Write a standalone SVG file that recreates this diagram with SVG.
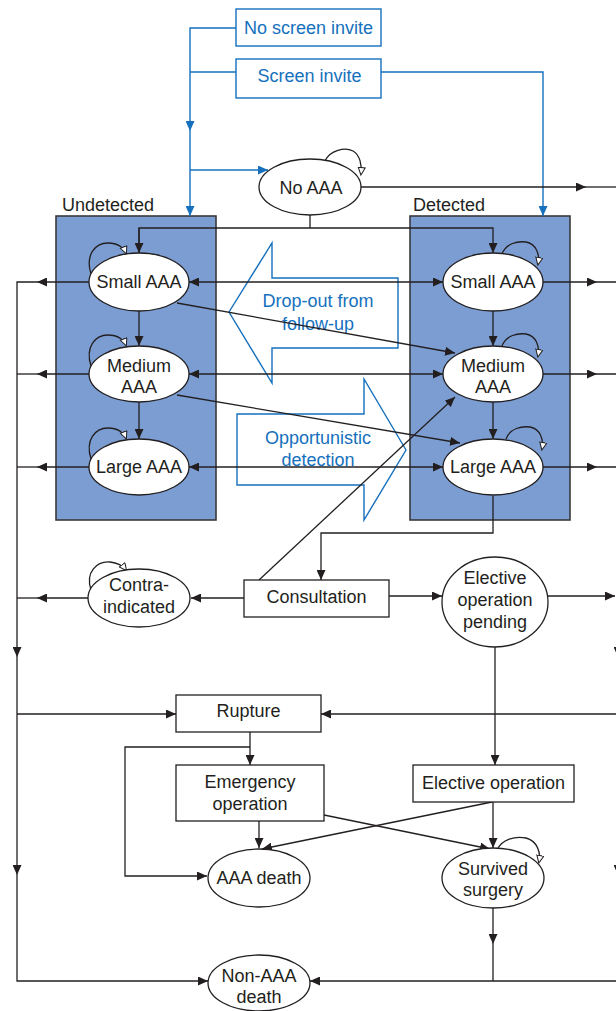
<svg xmlns="http://www.w3.org/2000/svg" width="616" height="1011" viewBox="0 0 616 1011">
  <style>
    .ln { fill: none; stroke: #231f20; stroke-width: 1.3; }
    .bl { fill: none; stroke: #1570bd; stroke-width: 1.4; }
    .nd { fill: #ffffff; stroke: #231f20; stroke-width: 1.3; }
    .grp { fill: #7b9dd2; stroke: #3a3a3c; stroke-width: 1.6; }
    .tx { font-family: "Liberation Sans", Arial, sans-serif; font-size: 18px; fill: #231f20; text-anchor: middle; }
    .bt { font-family: "Liberation Sans", Arial, sans-serif; font-size: 18px; fill: #1570bd; text-anchor: middle; }
    .lb { font-family: "Liberation Sans", Arial, sans-serif; font-size: 18px; fill: #231f20; }
    .ah { fill: #231f20; }
  </style>
  <defs>
    <marker id="arr" markerUnits="userSpaceOnUse" markerWidth="11" markerHeight="9" refX="10" refY="4.5" orient="auto-start-reverse">
      <path d="M0,0 L10,4.5 L0,9 z" fill="#231f20"/>
    </marker>
    <marker id="barr" markerUnits="userSpaceOnUse" markerWidth="11" markerHeight="9" refX="10" refY="4.5" orient="auto">
      <path d="M0,0 L10,4.5 L0,9 z" fill="#1570bd"/>
    </marker>
    <marker id="open" markerUnits="userSpaceOnUse" markerWidth="10" markerHeight="9" refX="7" refY="4" orient="auto">
      <path d="M0.5,0.5 L8,4 L0.5,7.5 z" fill="#ffffff" stroke="#231f20" stroke-width="1"/>
    </marker>
  </defs>

  <!-- state groups -->
  <g id="undetected-group">
    <rect class="grp" x="56" y="216" width="160" height="304"/>
    <text class="lb" x="62" y="211">Undetected</text>
  </g>
  <g id="detected-group">
    <rect class="grp" x="410" y="216" width="160" height="304"/>
    <text class="lb" x="413" y="211">Detected</text>
  </g>

  <!-- transfer arrows between the groups -->
  <g id="dropout-arrow">
    <polygon class="bl" points="229,312 272,243 272,278 398,278 398,348 272,348 272,383"/>
    <text class="bt" x="318" y="307">Drop-out from</text>
    <text class="bt" x="318" y="330">follow-up</text>
  </g>
  <g id="opportunistic-arrow">
    <polygon class="bl" points="406,450 364,379 364,414 237,414 237,485 364,485 364,520"/>
    <text class="bt" x="318" y="444">Opportunistic</text>
    <text class="bt" x="318" y="466">detection</text>
  </g>

  <!-- connectors -->
  <g id="connectors">
    <!-- invitation routes -->
    <path class="bl" d="M236,28 H190 V131" marker-end="url(#barr)"/>
    <path class="bl" d="M190,131 V216" marker-end="url(#barr)"/>
    <path class="bl" d="M236,72 H190"/>
    <path class="bl" d="M190,170 H268" marker-end="url(#barr)"/>
    <path class="bl" d="M381,72 H543 V216" marker-end="url(#barr)"/>

    <!-- No AAA exits -->
    <path class="ln" d="M361,187 H586" marker-end="url(#arr)"/>
    <path class="ln" d="M586,187 H616"/>
    <path class="ln" d="M310,215 V228"/>
    <path class="ln" d="M139,253 V228 H493 V253" marker-end="url(#arr)"/>
    <path class="ln" d="M139,228 V253" marker-end="url(#arr)"/>

    <!-- growth within groups -->
    <path class="ln" d="M139,311 V346" marker-end="url(#arr)"/>
    <path class="ln" d="M139,402 V439" marker-end="url(#arr)"/>
    <path class="ln" d="M493,311 V346" marker-end="url(#arr)"/>
    <path class="ln" d="M493,402 V439" marker-end="url(#arr)"/>

    <!-- detection / drop-out -->
    <path class="ln" d="M189,282 H443" marker-start="url(#arr)" marker-end="url(#arr)"/>
    <path class="ln" d="M189,374 H443" marker-start="url(#arr)" marker-end="url(#arr)"/>
    <path class="ln" d="M189,467 H443" marker-start="url(#arr)" marker-end="url(#arr)"/>
    <path class="ln" d="M177,303 L455,353" marker-end="url(#arr)"/>
    <path class="ln" d="M177,395 L460,443" marker-end="url(#arr)"/>

    <!-- left exits to non-AAA death -->
    <path class="ln" d="M89,282 H37" marker-end="url(#arr)"/>
    <path class="ln" d="M89,374 H37" marker-end="url(#arr)"/>
    <path class="ln" d="M89,467 H37" marker-end="url(#arr)"/>
    <path class="ln" d="M88,598 H37" marker-end="url(#arr)"/>
    <path class="ln" d="M37,282 H17 V657" marker-end="url(#arr)"/>
    <path class="ln" d="M37,374 H17"/>
    <path class="ln" d="M37,467 H17"/>
    <path class="ln" d="M37,598 H17"/>
    <path class="ln" d="M17,657 V875" marker-end="url(#arr)"/>
    <path class="ln" d="M17,875 V981 H208" marker-end="url(#arr)"/>
    <path class="ln" d="M17,714 H176" marker-end="url(#arr)"/>

    <!-- right exits -->
    <path class="ln" d="M543,282 H597" marker-end="url(#arr)"/>
    <path class="ln" d="M543,374 H597" marker-end="url(#arr)"/>
    <path class="ln" d="M543,467 H597" marker-end="url(#arr)"/>
    <path class="ln" d="M597,282 H616 M597,374 H616 M597,467 H616"/>
    <path class="ln" d="M548,596 H615" marker-end="url(#arr)"/>
    <path class="ln" d="M618,600 V657" marker-end="url(#arr)"/>
    <path class="ln" d="M618,800 V875" marker-end="url(#arr)"/>
    <path class="ln" d="M616,714 H321" marker-end="url(#arr)"/>
    <path class="ln" d="M616,981 H310" marker-end="url(#arr)"/>

    <!-- consultation and surgery -->
    <path class="ln" d="M493,496 V533 H321 V580" marker-end="url(#arr)"/>
    <path class="ln" d="M259,580 L455,397" marker-end="url(#arr)"/>
    <path class="ln" d="M244,598 H191" marker-end="url(#arr)"/>
    <path class="ln" d="M389,596 H442" marker-end="url(#arr)"/>
    <path class="ln" d="M495,647 V765" marker-end="url(#arr)"/>
    <path class="ln" d="M250,732 V765" marker-end="url(#arr)"/>
    <path class="ln" d="M250,747 H125 V876 H207" marker-end="url(#arr)"/>
    <path class="ln" d="M259,821 V848" marker-end="url(#arr)"/>
    <path class="ln" d="M492,802 L262,849" marker-end="url(#arr)"/>
    <path class="ln" d="M324,815 L490,849" marker-end="url(#arr)"/>
    <path class="ln" d="M493,802 V848" marker-end="url(#arr)"/>
    <path class="ln" d="M493,908 V944" marker-end="url(#arr)"/>
    <path class="ln" d="M493,944 V981"/>

    <!-- self transitions -->
    <path class="ln" d="M325,161 C330,150 345,147 353,151 C360,155 362,165 361,174" marker-end="url(#open)"/>
    <path class="ln" d="M91,274 C85,255 95,243 108,243 C118,243 124,248 126,253" marker-end="url(#open)"/>
    <path class="ln" d="M91,366 C85,347 95,335 108,335 C118,335 124,340 126,345" marker-end="url(#open)"/>
    <path class="ln" d="M91,459 C85,440 95,428 108,428 C118,428 124,433 126,438" marker-end="url(#open)"/>
    <path class="ln" d="M502,254 C506,243 518,241 526,242 C536,244 540,254 538,264" marker-end="url(#open)"/>
    <path class="ln" d="M502,346 C506,335 518,333 526,334 C536,336 540,346 538,356" marker-end="url(#open)"/>
    <path class="ln" d="M506,439 C510,428 522,426 530,427 C540,429 544,439 542,449" marker-end="url(#open)"/>
    <path class="ln" d="M91,590 C85,572 97,561 110,562 C118,563 123,566 126,570" marker-end="url(#open)"/>
    <path class="ln" d="M497,850 C502,839 515,836 526,838 C537,841 541,852 539,862" marker-end="url(#open)"/>
  </g>

  <!-- invitation boxes -->
  <g id="no-screen-invite">
    <rect x="236" y="9" width="145" height="37" fill="#ffffff" stroke="#1570bd" stroke-width="1.4"/>
    <text class="bt" x="308.5" y="34">No screen invite</text>
  </g>
  <g id="screen-invite">
    <rect x="236" y="59" width="145" height="39" fill="#ffffff" stroke="#1570bd" stroke-width="1.4"/>
    <text class="bt" x="309.5" y="82">Screen invite</text>
  </g>

  <!-- states -->
  <g id="no-aaa">
    <ellipse class="nd" cx="310" cy="187" rx="51" ry="28"/>
    <text class="tx" x="311" y="194">No AAA</text>
  </g>
  <g id="undetected-small">
    <ellipse class="nd" cx="139" cy="282" rx="50" ry="29"/>
    <text class="tx" x="139" y="288">Small AAA</text>
  </g>
  <g id="undetected-medium">
    <ellipse class="nd" cx="139" cy="374" rx="50" ry="28"/>
    <text class="tx" x="139" y="372">Medium</text>
    <text class="tx" x="139" y="393">AAA</text>
  </g>
  <g id="undetected-large">
    <ellipse class="nd" cx="139" cy="467" rx="50" ry="28"/>
    <text class="tx" x="139" y="473">Large AAA</text>
  </g>
  <g id="detected-small">
    <ellipse class="nd" cx="493" cy="282" rx="50" ry="29"/>
    <text class="tx" x="493" y="288">Small AAA</text>
  </g>
  <g id="detected-medium">
    <ellipse class="nd" cx="493" cy="374" rx="50" ry="28"/>
    <text class="tx" x="493" y="372">Medium</text>
    <text class="tx" x="493" y="393">AAA</text>
  </g>
  <g id="detected-large">
    <ellipse class="nd" cx="493" cy="467" rx="50" ry="28"/>
    <text class="tx" x="493" y="473">Large AAA</text>
  </g>
  <g id="contra-indicated">
    <ellipse class="nd" cx="139" cy="598" rx="51" ry="29"/>
    <text class="tx" x="139" y="591">Contra-</text>
    <text class="tx" x="139" y="613">indicated</text>
  </g>
  <g id="consultation">
    <rect class="nd" x="244" y="580" width="145" height="37"/>
    <text class="tx" x="316.5" y="603">Consultation</text>
  </g>
  <g id="elective-pending">
    <ellipse class="nd" cx="495" cy="602" rx="53" ry="45"/>
    <text class="tx" x="495" y="584">Elective</text>
    <text class="tx" x="495" y="606">operation</text>
    <text class="tx" x="495" y="628">pending</text>
  </g>
  <g id="rupture">
    <rect class="nd" x="176" y="695" width="145" height="37"/>
    <text class="tx" x="248.5" y="717">Rupture</text>
  </g>
  <g id="emergency-operation">
    <rect class="nd" x="176" y="765" width="148" height="56"/>
    <text class="tx" x="250" y="788">Emergency</text>
    <text class="tx" x="250" y="810">operation</text>
  </g>
  <g id="elective-operation">
    <rect class="nd" x="413" y="765" width="161" height="37"/>
    <text class="tx" x="493.5" y="789">Elective operation</text>
  </g>
  <g id="aaa-death">
    <ellipse class="nd" cx="259" cy="878" rx="51" ry="29"/>
    <text class="tx" x="259" y="884">AAA death</text>
  </g>
  <g id="survived-surgery">
    <ellipse class="nd" cx="493" cy="878" rx="51" ry="30"/>
    <text class="tx" x="493" y="875">Survived</text>
    <text class="tx" x="493" y="896">surgery</text>
  </g>
  <g id="non-aaa-death">
    <ellipse class="nd" cx="259" cy="983" rx="51" ry="28"/>
    <text class="tx" x="259" y="982">Non-AAA</text>
    <text class="tx" x="259" y="1003">death</text>
  </g>
</svg>
